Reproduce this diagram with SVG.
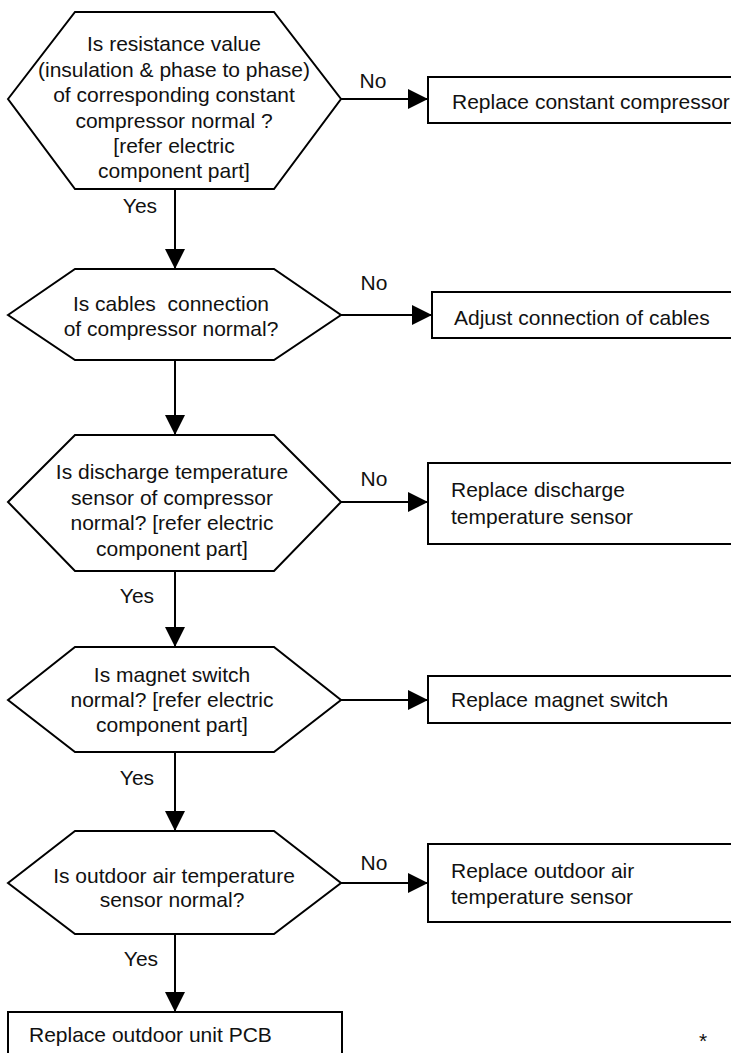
<svg xmlns="http://www.w3.org/2000/svg" width="731" height="1053" viewBox="0 0 731 1053">
<style>
  .shape { fill: #ffffff; stroke: #000000; stroke-width: 2; }
  .conn { fill: none; stroke: #000000; stroke-width: 2; }
  text { font-family: "Liberation Sans", Arial, Helvetica, sans-serif; font-size: 21px; fill: #111111; }
  .c { text-anchor: middle; }
</style>
<defs>
  <marker id="arrow" markerUnits="userSpaceOnUse" markerWidth="20" markerHeight="20" refX="20" refY="10" orient="auto">
    <path d="M0,0 L20,10 L0,20 Z" fill="#000000"/>
  </marker>
</defs>
<rect width="731" height="1053" fill="#ffffff"/>

<g id="connectors">
  <line class="conn" x1="341" y1="99" x2="428" y2="99" marker-end="url(#arrow)"/>
  <line class="conn" x1="175" y1="189" x2="175" y2="269" marker-end="url(#arrow)"/>
  <line class="conn" x1="341" y1="315" x2="432" y2="315" marker-end="url(#arrow)"/>
  <line class="conn" x1="175" y1="360" x2="175" y2="435" marker-end="url(#arrow)"/>
  <line class="conn" x1="341" y1="502" x2="428" y2="502" marker-end="url(#arrow)"/>
  <line class="conn" x1="175" y1="571" x2="175" y2="647" marker-end="url(#arrow)"/>
  <line class="conn" x1="341" y1="700" x2="428" y2="700" marker-end="url(#arrow)"/>
  <line class="conn" x1="175" y1="752" x2="175" y2="831" marker-end="url(#arrow)"/>
  <line class="conn" x1="341" y1="883" x2="428" y2="883" marker-end="url(#arrow)"/>
  <line class="conn" x1="175" y1="934" x2="175" y2="1012" marker-end="url(#arrow)"/>
  <text x="373" y="88" class="c">No</text>
  <text x="140" y="213" class="c">Yes</text>
  <text x="374" y="290" class="c">No</text>
  <text x="374" y="486" class="c">No</text>
  <text x="137" y="603" class="c">Yes</text>
  <text x="137" y="785" class="c">Yes</text>
  <text x="374" y="870" class="c">No</text>
  <text x="141" y="966" class="c">Yes</text>
</g>

<g id="q1">
  <polygon class="shape" points="8,99 75,12 274,12 341,99 274,189 75,189"/>
  <text x="174" y="51" class="c">Is resistance value</text>
  <text x="174" y="76.5" class="c">(insulation &amp; phase to phase)</text>
  <text x="174" y="102" class="c">of corresponding constant</text>
  <text x="174" y="127.5" class="c">compressor normal ?</text>
  <text x="174" y="153" class="c">[refer electric</text>
  <text x="174" y="178" class="c">component part]</text>
</g>
<g id="a1">
  <rect class="shape" x="428" y="77" width="320" height="46"/>
  <text x="452" y="109">Replace constant compressor</text>
</g>

<g id="q2">
  <polygon class="shape" points="8,315 75,269 274,269 341,315 274,360 75,360"/>
  <text x="171" y="311" class="c">Is cables&#160; connection</text>
  <text x="171" y="336" class="c">of compressor normal?</text>
</g>
<g id="a2">
  <rect class="shape" x="432" y="292" width="320" height="46"/>
  <text x="454" y="325">Adjust connection of cables</text>
</g>

<g id="q3">
  <polygon class="shape" points="8,502 75,435 274,435 341,502 274,571 75,571"/>
  <text x="172" y="479" class="c">Is discharge temperature</text>
  <text x="172" y="504.5" class="c">sensor of compressor</text>
  <text x="172" y="530" class="c">normal? [refer electric</text>
  <text x="172" y="555.5" class="c">component part]</text>
</g>
<g id="a3">
  <rect class="shape" x="428" y="463" width="320" height="81"/>
  <text x="451" y="497">Replace discharge</text>
  <text x="451" y="524">temperature sensor</text>
</g>

<g id="q4">
  <polygon class="shape" points="8,700 75,647 274,647 341,700 274,752 75,752"/>
  <text x="172" y="682" class="c">Is magnet switch</text>
  <text x="172" y="707" class="c">normal? [refer electric</text>
  <text x="172" y="731.5" class="c">component part]</text>
</g>
<g id="a4">
  <rect class="shape" x="428" y="676" width="320" height="47"/>
  <text x="451" y="707">Replace magnet switch</text>
</g>

<g id="q5">
  <polygon class="shape" points="8,883 75,831 274,831 341,883 274,934 75,934"/>
  <text x="174" y="883" class="c">Is outdoor air temperature</text>
  <text x="172" y="907" class="c">sensor normal?</text>
</g>
<g id="a5">
  <rect class="shape" x="428" y="844" width="320" height="78"/>
  <text x="451" y="878">Replace outdoor air</text>
  <text x="451" y="904">temperature sensor</text>
</g>

<g id="a6">
  <rect class="shape" x="8" y="1012" width="334" height="60"/>
  <text x="29" y="1042">Replace outdoor unit PCB</text>
</g>

<text x="703" y="1048" class="c" font-size="16">*</text>
</svg>
